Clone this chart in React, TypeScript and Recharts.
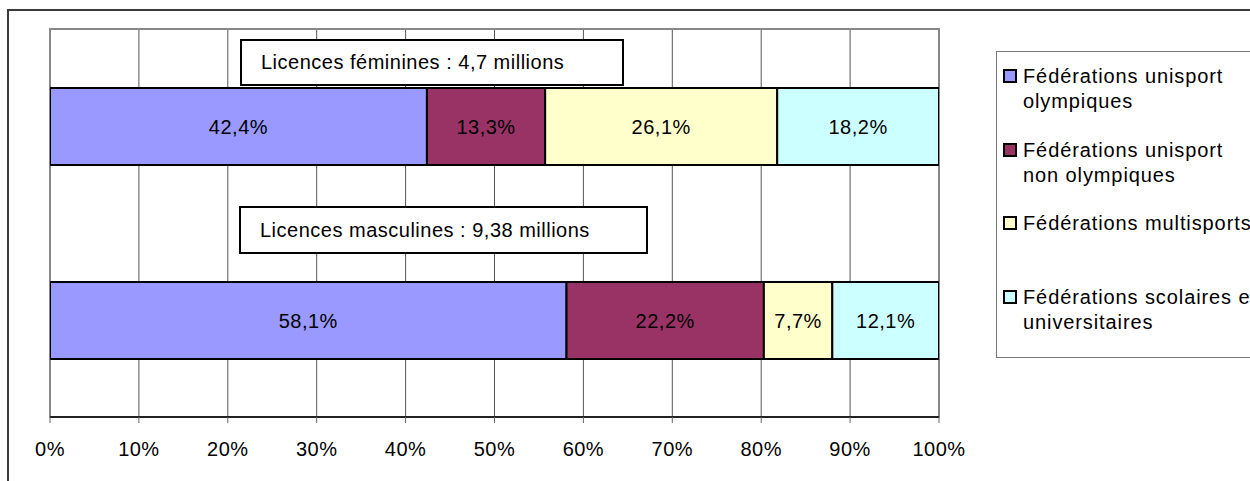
import {BarChart, Bar, XAxis, YAxis, CartesianGrid, LabelList, ReferenceArea} from "recharts";

const categories = ["Licences féminines", "Licences masculines"];
const totals = ["4,7 millions", "9,38 millions"];
const seriesNames = [
    "Fédérations unisport olympiques",
    "Fédérations unisport non olympiques",
    "Fédérations multisports",
    "Fédérations scolaires et universitaires",
];
// how the legend wraps each name
const legendLines = [
    ["Fédérations unisport", "olympiques"],
    ["Fédérations unisport", "non olympiques"],
    ["Fédérations multisports"],
    ["Fédérations scolaires et", "universitaires"],
];
const olympiques = [42.4, 58.1];
const nonOlympiques = [13.3, 22.2];
const multisports = [26.1, 7.7];
const scolaires = [18.2, 12.1];
const COLORS = ["#9999FF", "#993366", "#FFFFCC", "#CCFFFF"];
const xTicks = [0, 10, 20, 30, 40, 50, 60, 70, 80, 90, 100];

const series = [olympiques, nonOlympiques, multisports, scolaires];
const data = categories.map((name, i) => {
    const row: any = {name};
    series.forEach((s, k) => {
        row["s" + k] = s[i];
    });
    return row;
});

const FONT = "'Liberation Sans', Arial, sans-serif";
const fmt = (v: number) => v.toFixed(1).replace(".", ",") + "%";

// text boxes above each bar
const boxes = [
    {left: 240, top: 39, width: 384, height: 47},
    {left: 239, top: 206, width: 409, height: 48},
];

export default function App() {
    return (
        <div style={{position: "absolute", left: 0, top: 0, width: 1250, height: 481, overflow: "hidden", background: "#fff", fontFamily: FONT}}>
            <div style={{position: "absolute", left: 7, top: 9, width: 1300, height: 500, borderLeft: "2px solid #3a3a3a", borderTop: "2px solid #3a3a3a"}}/>
            <div style={{position: "absolute", left: 0, top: 0}}>
                <BarChart
                    width={1250}
                    height={481}
                    data={data}
                    layout="vertical"
                    barSize={77}
                    margin={{top: 29, right: 311, bottom: 0, left: 50}}
                >
                    <CartesianGrid horizontal={false} stroke="#555" strokeWidth={1}/>
                    <ReferenceArea x1={0} x2={100} fill="none" stroke="#888" strokeWidth={2}/>
                    <XAxis
                        type="number"
                        domain={[0, 100]}
                        allowDataOverflow
                        ticks={xTicks}
                        height={64}
                        tickFormatter={(v) => v + "%"}
                        axisLine={{stroke: "#000", strokeWidth: 1.5}}
                        tickLine={{stroke: "#666"}}
                        tickSize={6}
                        tickMargin={19}
                        tick={{fill: "#000", fontSize: 20, fontFamily: FONT, letterSpacing: 0.5}}
                    />
                    <YAxis type="category" dataKey="name" hide width={0}/>
                    {seriesNames.map((n, k) => (
                        <Bar
                            key={n}
                            dataKey={"s" + k}
                            name={n}
                            stackId="a"
                            fill={COLORS[k]}
                            stroke="#000"
                            strokeWidth={2}
                            isAnimationActive={false}
                        >
                            <LabelList
                                dataKey={"s" + k}
                                position="center"
                                formatter={fmt}
                                fill="#000"
                                fontSize={20}
                                fontFamily={FONT}
                                letterSpacing={0.5}
                            />
                        </Bar>
                    ))}
                </BarChart>
            </div>
            {boxes.map((b, i) => (
                <div
                    key={i}
                    style={{
                        position: "absolute",
                        left: b.left,
                        top: b.top,
                        width: b.width,
                        height: b.height,
                        boxSizing: "border-box",
                        border: "2px solid #000",
                        background: "#fff",
                        paddingLeft: 19,
                        lineHeight: b.height - 4 + "px",
                        fontSize: 20,
                        letterSpacing: 0.5,
                        whiteSpace: "nowrap",
                    }}
                >
                    {categories[i] + " : " + totals[i]}
                </div>
            ))}
            <div
                style={{
                    position: "absolute",
                    left: 996,
                    top: 51,
                    width: 300,
                    height: 307,
                    boxSizing: "border-box",
                    border: "1.5px solid #777",
                    background: "#fff",
                    paddingTop: 12,
                }}
            >
                {legendLines.map((lines, k) => (
                    <div key={k} style={{position: "relative", height: 73.5, paddingLeft: 26}}>
                        <div style={{position: "absolute", left: 6, top: 5, width: 14, height: 14, boxSizing: "border-box", border: "2px solid #000", background: COLORS[k]}}/>
                        {lines.map((t) => (
                            <div key={t} style={{whiteSpace: "nowrap", fontSize: 20, lineHeight: "25px", letterSpacing: 0.9}}>{t}</div>
                        ))}
                    </div>
                ))}
            </div>
        </div>
    );
}
